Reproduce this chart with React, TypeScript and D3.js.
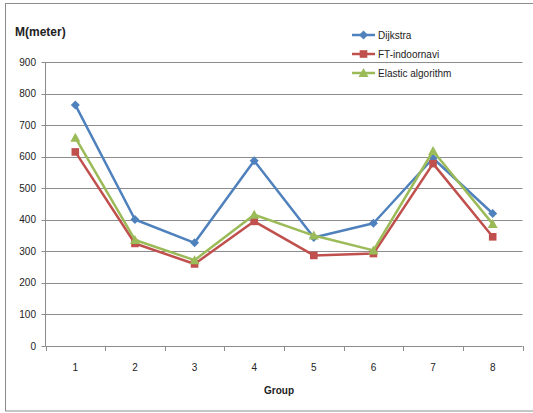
import React from "react";
import * as d3 from "d3";

const groups = ["1", "2", "3", "4", "5", "6", "7", "8"];
const yTicks = [0, 100, 200, 300, 400, 500, 600, 700, 800, 900];
const dijkstra = [764, 401, 327, 587, 344, 389, 595, 420];
const ftIndoornavi = [615, 325, 260, 395, 287, 293, 578, 346];
const elastic = [660, 336, 272, 416, 350, 303, 618, 387];
const seriesNames = ["Dijkstra", "FT-indoornavi", "Elastic algorithm"];
const seriesColors = ["#4F81BD", "#C0504D", "#9BBB59"];
const seriesShapes = ["diamond", "square", "triangle"];

const W = 533, H = 413;
const left = 45.5, right = 522.5, top = 62, bottom = 346;
const font = "'Liberation Sans', Arial, sans-serif";

function Marker({ shape, x, y, color }: { shape: string; x: number; y: number; color: string }) {
  if (shape === "diamond") {
    const s = 4.5;
    return <path d={`M${x},${y - s}L${x + s},${y}L${x},${y + s}L${x - s},${y}Z`} fill={color} />;
  }
  if (shape === "square") {
    const s = 3.8;
    return <rect x={x - s} y={y - s} width={2 * s} height={2 * s} fill={color} />;
  }
  const s = 5;
  return <path d={`M${x},${y - s}L${x + s},${y + s * 0.8}L${x - s},${y + s * 0.8}Z`} fill={color} />;
}

export default function App() {
  const x = d3.scaleBand<string>().domain(groups).range([left, right]);
  const y = d3.scaleLinear().domain([0, 900]).range([bottom, top]);
  const data = [dijkstra, ftIndoornavi, elastic];
  const line = d3
    .line<number>()
    .x((_, i) => (x(groups[i]) as number) + x.bandwidth() / 2)
    .y((d) => y(d));
  const boundaries = groups.map((g) => x(g) as number).concat([right]);

  return (
    <svg width={W} height={H} style={{ position: "absolute", left: 0, top: 0 }}>
      <rect x={0} y={0} width={W} height={H} fill="#fff" />
      <rect x={5.5} y={3.5} width={W} height={407.5} fill="none" stroke="#8c8c8c" strokeWidth={1} />
      {yTicks.map((t) => (
        <g key={t}>
          {t > 0 && (
            <line x1={left} x2={right} y1={Math.round(y(t)) + 0.5} y2={Math.round(y(t)) + 0.5} stroke="#8c8c8c" strokeWidth={1} />
          )}
          <line x1={left - 4} x2={left} y1={Math.round(y(t)) + 0.5} y2={Math.round(y(t)) + 0.5} stroke="#8c8c8c" />
          <text x={36} y={y(t) + 3.5} textAnchor="end" fontFamily={font} fontSize={10} fill="#222">
            {t}
          </text>
        </g>
      ))}
      <line x1={left} x2={left} y1={top} y2={bottom} stroke="#8c8c8c" />
      <line x1={left} x2={right} y1={bottom + 0.5} y2={bottom + 0.5} stroke="#8c8c8c" />
      {boundaries.map((b, i) => (
        <line key={i} x1={Math.round(b) + 0.5} x2={Math.round(b) + 0.5} y1={bottom} y2={bottom + 5} stroke="#8c8c8c" />
      ))}
      {groups.map((g) => (
        <text key={g} x={(x(g) as number) + x.bandwidth() / 2} y={371} textAnchor="middle" fontFamily={font} fontSize={10} fill="#222">
          {g}
        </text>
      ))}
      <text x={279} y={394} textAnchor="middle" fontFamily={font} fontSize={10} fontWeight="bold" fill="#222">
        Group
      </text>
      <text x={15} y={36} fontFamily={font} fontSize={12} fontWeight="bold" fill="#222">
        M(meter)
      </text>
      {data.map((vals, si) => (
        <g key={si}>
          <path d={line(vals) as string} fill="none" stroke={seriesColors[si]} strokeWidth={2.5} strokeLinejoin="round" />
          {vals.map((v, i) => (
            <Marker key={i} shape={seriesShapes[si]} x={(x(groups[i]) as number) + x.bandwidth() / 2} y={y(v)} color={seriesColors[si]} />
          ))}
        </g>
      ))}
      {seriesNames.map((n, si) => {
        const ly = 35 + si * 19;
        return (
          <g key={n}>
            <line x1={352} x2={375} y1={ly} y2={ly} stroke={seriesColors[si]} strokeWidth={2.5} />
            <Marker shape={seriesShapes[si]} x={363.5} y={ly} color={seriesColors[si]} />
            <text x={378} y={ly + 3.5} fontFamily={font} fontSize={10} fill="#222">
              {n}
            </text>
          </g>
        );
      })}
    </svg>
  );
}
